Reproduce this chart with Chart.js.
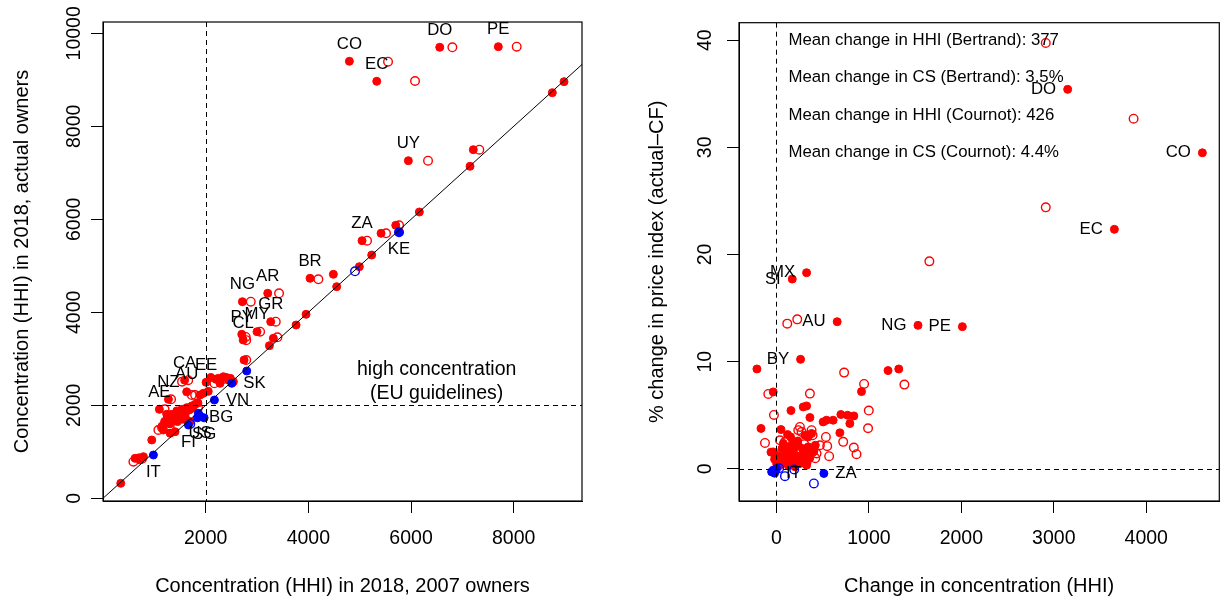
<!DOCTYPE html>
<html>
<head>
<meta charset="utf-8">
<script src="https://cdn.jsdelivr.net/npm/chart.js@4"></script>
<style>
  body { margin: 0; background: #fff; }
  #wrap { position: relative; width: 1225px; height: 601px; }
  canvas { position: absolute; top: 0; }
  #leftChart { left: 0; }
  #rightChart { left: 612px; }
</style>
</head>
<body>
<div id="wrap">
  <canvas id="leftChart" width="612" height="601"></canvas>
  <canvas id="rightChart" width="613" height="601"></canvas>
</div>
<script>
// ---- left panel: HHI 2018 with 2007 owners (x) vs actual owners (y) ----
const leftXTicks = [2000, 4000, 6000, 8000];
const leftYTicks = [0, 2000, 4000, 6000, 8000, 10000];
const hhiGuideline = 2000;

// labelled points first, labels run in the same order
const leftRedLabels = ['CO', 'EC', 'DO', 'PE', 'UY', 'ZA', 'BR', 'NG', 'AR', 'GR', 'MY', 'PY', 'CL', 'CA', 'EE', 'AU', 'NZ', 'AE'];
const leftRedFilled = [
  [4799, 9398], [5332, 8968], [6559, 9699], [7700, 9712], [5948, 7260], [5046, 5540],
  [4033, 4731], [2715, 4228], [3209, 4409], [3267, 3798], [3000, 3583], [2703, 3527],
  [2730, 3406], [1590, 2540], [2008, 2495], [1630, 2290], [1274, 2129], [1098, 1914],
  [8980, 8960], [8752, 8723], [7213, 7497], [7149, 7140], [6162, 6157], [5702, 5871],
  [5416, 5699], [5234, 5232], [4993, 4981], [4552, 4551], [4487, 4817], [3318, 3441],
  [3241, 3282], [3761, 3727], [3955, 3957], [2748, 2974], [2248, 2580], [2345, 2615],
  [2442, 2544], [2540, 2508], [2280, 2473], [1891, 2222], [1955, 2258], [1242, 1807],
  [1340, 1807], [1437, 1880], [1535, 1914], [1632, 1950], [1729, 1985], [1794, 2021],
  [1242, 1700], [1340, 1665], [1437, 1735], [1535, 1770], [1176, 1469], [1307, 1398],
  [1404, 1432], [1632, 1684], [1696, 1647], [950, 1254], [722, 825], [625, 860],
  [787, 895], [346, 323], [1280, 1750], [1380, 1760], [1480, 1820], [1580, 1850],
  [1680, 1900], [1750, 1940], [1200, 1650], [1300, 1600], [1450, 1650], [1550, 1700],
  [1600, 1800], [1850, 2050], [2100, 2600], [2200, 2560], [2400, 2600], [2480, 2580],
  [1150, 1550], [700, 870], [2050, 2300]
];
const leftRedOpen = [
  [5552, 9390], [6078, 8974], [6805, 9699], [8058, 9712], [6331, 7260], [5143, 5540],
  [4195, 4710], [2878, 4228], [3429, 4409], [3365, 3798], [3060, 3583], [2780, 3470],
  [2790, 3400], [1660, 2540], [2170, 2473], [1540, 2509], [1326, 2129], [1200, 1914],
  [7330, 7497], [5767, 5871], [5513, 5699], [3397, 3462], [1729, 2222], [1794, 2222],
  [1079, 1469], [592, 787], [2790, 2974], [1300, 1560], [1150, 1520], [1350, 1700],
  [1450, 1780], [1250, 1640], [1850, 1950], [2330, 2560], [760, 850]
];
const leftBlueLabels = ['KE', 'SK', 'VN', 'BG', 'US', 'SG', 'FI', 'IT'];
const leftBlueSides = [1, 4, 4, 4, 1, 1, 1, 1];
const leftBlueFilled = [
  [5766, 5720], [2508, 2473], [2170, 2114], [1840, 1730], [1890, 1770], [1970, 1730],
  [1664, 1576], [982, 931], [2800, 2738], [1858, 1828]
];
const leftBlueOpen = [[4909, 4882], [5766, 5720], [1700, 1600]];

// ---- right panel: change in HHI (x) vs % change in price index (y) ----
const rightXTicks = [0, 1000, 2000, 3000, 4000];
const rightYTicks = [0, 10, 20, 30, 40];
const rightRedLabels = ['CO', 'DO', 'EC', 'MX', 'SI', 'AU', 'NG', 'PE', 'BY'];
const rightRedFilled = [
  [4607, 29.49], [3150, 35.41], [3655, 22.35], [326, 18.3], [171, 17.71], [657, 13.73],
  [1531, 13.39], [2011, 13.27], [261, 10.22], [-211, 9.32], [1207, 9.17], [1323, 9.32],
  [920, 7.21], [-35, 7.18], [290, 5.78], [326, 5.87], [157, 5.44], [362, 4.79],
  [697, 5.07], [769, 5.0], [837, 4.94], [794, 4.23], [542, 4.54], [613, 4.54],
  [505, 4.38], [686, 3.36], [-167, 3.77], [49, 3.67], [-59, 1.56], [308, 3.14],
  [343, 2.98], [380, 3.3], [153, 2.98], [74, 2.37], [127, 2.05], [181, 1.74],
  [236, 2.21], [290, 1.74], [343, 2.05], [398, 1.58], [146, 1.12], [218, 0.97],
  [272, 1.28], [308, 0.81], [56, 0.81], [2, 0.5], [110, 0.5], [181, 0.5],
  [254, 0.5], [326, 0.34], [-35, 1.58], [20, 1.2], [60, 1.9], [100, 1.4],
  [160, 1.5], [200, 1.3], [240, 0.7], [280, 1.9], [320, 1.5], [360, 1.0],
  [90, 0.9], [130, 0.3], [200, 0.2], [30, 0.3], [-20, 0.9], [230, 2.6],
  [180, 2.5], [420, 2.2], [120, 3.2]
];
const rightRedOpen = [
  [2913, 39.74], [3863, 32.67], [2913, 24.4], [1654, 19.36], [225, 13.95], [117, 13.55],
  [732, 8.98], [1384, 7.86], [948, 7.92], [-88, 6.99], [362, 7.02], [-27, 5.03],
  [999, 5.44], [991, 3.79], [722, 2.52], [837, 1.99], [866, 1.37], [-124, 2.42],
  [38, 2.67], [92, 2.52], [236, 3.61], [272, 3.45], [254, 3.91], [380, 3.61],
  [391, 3.14], [535, 2.98], [549, 2.12], [570, 1.18], [398, 1.65], [434, 1.43],
  [362, 1.28], [283, 0.97], [326, 0.65], [150, 1.8], [190, 2.4], [260, 1.5],
  [300, 2.3], [340, 1.9], [420, 1.0], [470, 2.2], [180, 0.6], [60, 1.6]
];
const rightBlueLabels = ['IT', 'ZA'];
const rightBlueFilled = [[-20, -0.4], [513, -0.43], [-35, -0.12], [2, 0.04], [-52, -0.28]];
const rightBlueOpen = [[92, -0.68], [192, -0.06], [405, -1.36], [-20, -0.2], [30, 0.05]];

const noteLines = [
  'Mean change in HHI (Bertrand): 377',
  'Mean change in CS (Bertrand): 3.5%',
  'Mean change in HHI (Cournot): 426',
  'Mean change in CS (Cournot): 4.4%'
];
const noteY = [40, 36.5, 33, 29.5];

const FONT = "'Liberation Sans', Arial, Helvetica, sans-serif";
Chart.defaults.font.family = FONT;
const RED = '#FF0000';
const BLUE = '#0000FF';

function pts(list) {
  return list.map(p => ({ x: p[0], y: p[1] }));
}

function filledSet(list, color, extra) {
  return Object.assign({
    data: pts(list), pointStyle: 'circle', pointRadius: 4, borderWidth: 1,
    backgroundColor: color, borderColor: color
  }, extra);
}

function openSet(list, color, extra) {
  return Object.assign({
    data: pts(list), pointStyle: 'circle', pointRadius: 4.3, borderWidth: 1.4,
    backgroundColor: 'rgba(0,0,0,0)', borderColor: color
  }, extra);
}

function xAxis(min, max, ticks, title) {
  return {
    type: 'linear', position: 'bottom', min: min, max: max,
    afterBuildTicks: s => { s.ticks = ticks.map(v => ({ value: v })); },
    afterFit: s => { s.height = 100; },
    grid: { drawOnChartArea: false, drawTicks: true, tickLength: 12, color: '#000' },
    border: { display: true, color: '#000' },
    ticks: { color: '#000', font: { size: 19.5 }, padding: 14, maxRotation: 0, autoSkip: false, callback: v => String(v) },
    title: { display: true, text: title, color: '#000', font: { size: 20 }, padding: { top: 0, bottom: 3 } }
  };
}

function yAxis(min, max, ticks, title, width, tickPad, titlePad) {
  return {
    type: 'linear', position: 'left', min: min, max: max,
    afterBuildTicks: s => { s.ticks = ticks.map(v => ({ value: v })); },
    afterFit: s => { s.width = width; },
    grid: { drawOnChartArea: false, drawTicks: true, tickLength: 12, color: '#000' },
    border: { display: true, color: '#000' },
    ticks: { color: '#000', font: { size: 19.5 }, padding: tickPad, minRotation: 90, maxRotation: 90, crossAlign: 'center', autoSkip: false, callback: v => String(v) },
    title: { display: true, text: title, color: '#000', font: { size: 20 }, padding: { top: titlePad, bottom: 0 } }
  };
}

// reference lines, frame, point labels and notes (R base graphics look)
function panelPlugin(cfg) {
  return {
    id: 'panel',
    afterDatasetsDraw(chart) {
      const { ctx, chartArea: a, scales: { x, y } } = chart;
      ctx.save();
      ctx.beginPath();
      ctx.rect(a.left, a.top, a.right - a.left, a.bottom - a.top);
      ctx.clip();
      ctx.strokeStyle = '#000';
      ctx.lineWidth = 1;
      if (cfg.diagonal) {
        ctx.beginPath();
        ctx.moveTo(x.getPixelForValue(x.min), y.getPixelForValue(x.min));
        ctx.lineTo(x.getPixelForValue(x.max), y.getPixelForValue(x.max));
        ctx.stroke();
      }
      ctx.setLineDash([5, 4]);
      const vx = Math.round(x.getPixelForValue(cfg.vLine)) + 0.5;
      const hy = Math.round(y.getPixelForValue(cfg.hLine)) + 0.5;
      ctx.beginPath();
      ctx.moveTo(vx, a.top); ctx.lineTo(vx, a.bottom);
      ctx.moveTo(a.left, hy); ctx.lineTo(a.right, hy);
      ctx.stroke();
      ctx.restore();

      ctx.save();
      ctx.strokeStyle = '#000';
      ctx.lineWidth = 1.2;
      ctx.strokeRect(a.left, a.top, a.right - a.left, a.bottom - a.top);

      ctx.fillStyle = '#000';
      ctx.font = '16.8px ' + FONT;
      ctx.textBaseline = 'middle';
      chart.data.datasets.forEach((ds, i) => {
        if (!ds.pointLabels) return;
        const meta = chart.getDatasetMeta(i);
        ds.pointLabels.forEach((txt, j) => {
          const el = meta.data[j];
          const side = ds.labelSides ? ds.labelSides[j] : ds.labelSide;
          let tx = el.x, ty = el.y;
          if (side === 1) { ctx.textAlign = 'center'; ty += 17; }
          else if (side === 2) { ctx.textAlign = 'right'; tx -= 11.5; }
          else if (side === 3) { ctx.textAlign = 'center'; ty -= 17; }
          else { ctx.textAlign = 'left'; tx += 11.5; }
          ctx.fillText(txt, tx, ty);
        });
      });

      if (cfg.notes) {
        ctx.textAlign = 'left';
        cfg.notes.lines.forEach((t, k) => {
          ctx.fillText(t, x.getPixelForValue(cfg.notes.x) + 12, y.getPixelForValue(cfg.notes.y[k]));
        });
      }
      if (cfg.centerNote) {
        ctx.textAlign = 'center';
        ctx.font = '19.5px ' + FONT;
        const cx = x.getPixelForValue(cfg.centerNote.x);
        const cy = y.getPixelForValue(cfg.centerNote.y);
        ctx.fillText(cfg.centerNote.lines[0], cx, cy - 12);
        ctx.fillText(cfg.centerNote.lines[1], cx, cy + 12);
      }
      ctx.restore();
    }
  };
}

const baseOptions = (pad, scales) => ({
  responsive: false,
  animation: false,
  events: [],
  layout: { padding: pad },
  plugins: { legend: { display: false }, tooltip: { enabled: false } },
  scales: scales
});

new Chart(document.getElementById('leftChart'), {
  type: 'scatter',
  data: {
    datasets: [
      filledSet(leftBlueFilled, BLUE, { pointLabels: leftBlueLabels, labelSides: leftBlueSides }),
      openSet(leftBlueOpen, BLUE),
      openSet(leftRedOpen, RED),
      filledSet(leftRedFilled, RED, { pointLabels: leftRedLabels, labelSide: 3 })
    ]
  },
  options: baseOptions({ top: 22, right: 30, bottom: 0, left: 0 }, {
    x: xAxis(0, 9330, leftXTicks, 'Concentration (HHI) in 2018, 2007 owners'),
    y: yAxis(-58, 10243, leftYTicks, 'Concentration (HHI) in 2018, actual owners', 103, -11, 10)
  }),
  plugins: [panelPlugin({
    diagonal: true, vLine: hhiGuideline, hLine: hhiGuideline,
    centerNote: { x: 6500, y: 2500, lines: ['high concentration', '(EU guidelines)'] }
  })]
});

new Chart(document.getElementById('rightChart'), {
  type: 'scatter',
  data: {
    datasets: [
      filledSet(rightBlueFilled, BLUE, { pointLabels: rightBlueLabels, labelSide: 4 }),
      openSet(rightBlueOpen, BLUE),
      openSet(rightRedOpen, RED),
      filledSet(rightRedFilled, RED, { pointLabels: rightRedLabels, labelSide: 2 })
    ]
  },
  options: baseOptions({ top: 22, right: 5, bottom: 0, left: 0 }, {
    x: xAxis(-405, 4790, rightXTicks, 'Change in concentration (HHI)'),
    y: yAxis(-3.0, 41.63, rightYTicks, '% change in price index (actual\u2013CF)', 127, 11, 33)
  }),
  plugins: [panelPlugin({
    diagonal: false, vLine: 0, hLine: 0,
    notes: { x: 0, y: noteY, lines: noteLines }
  })]
});
</script>
</body>
</html>
